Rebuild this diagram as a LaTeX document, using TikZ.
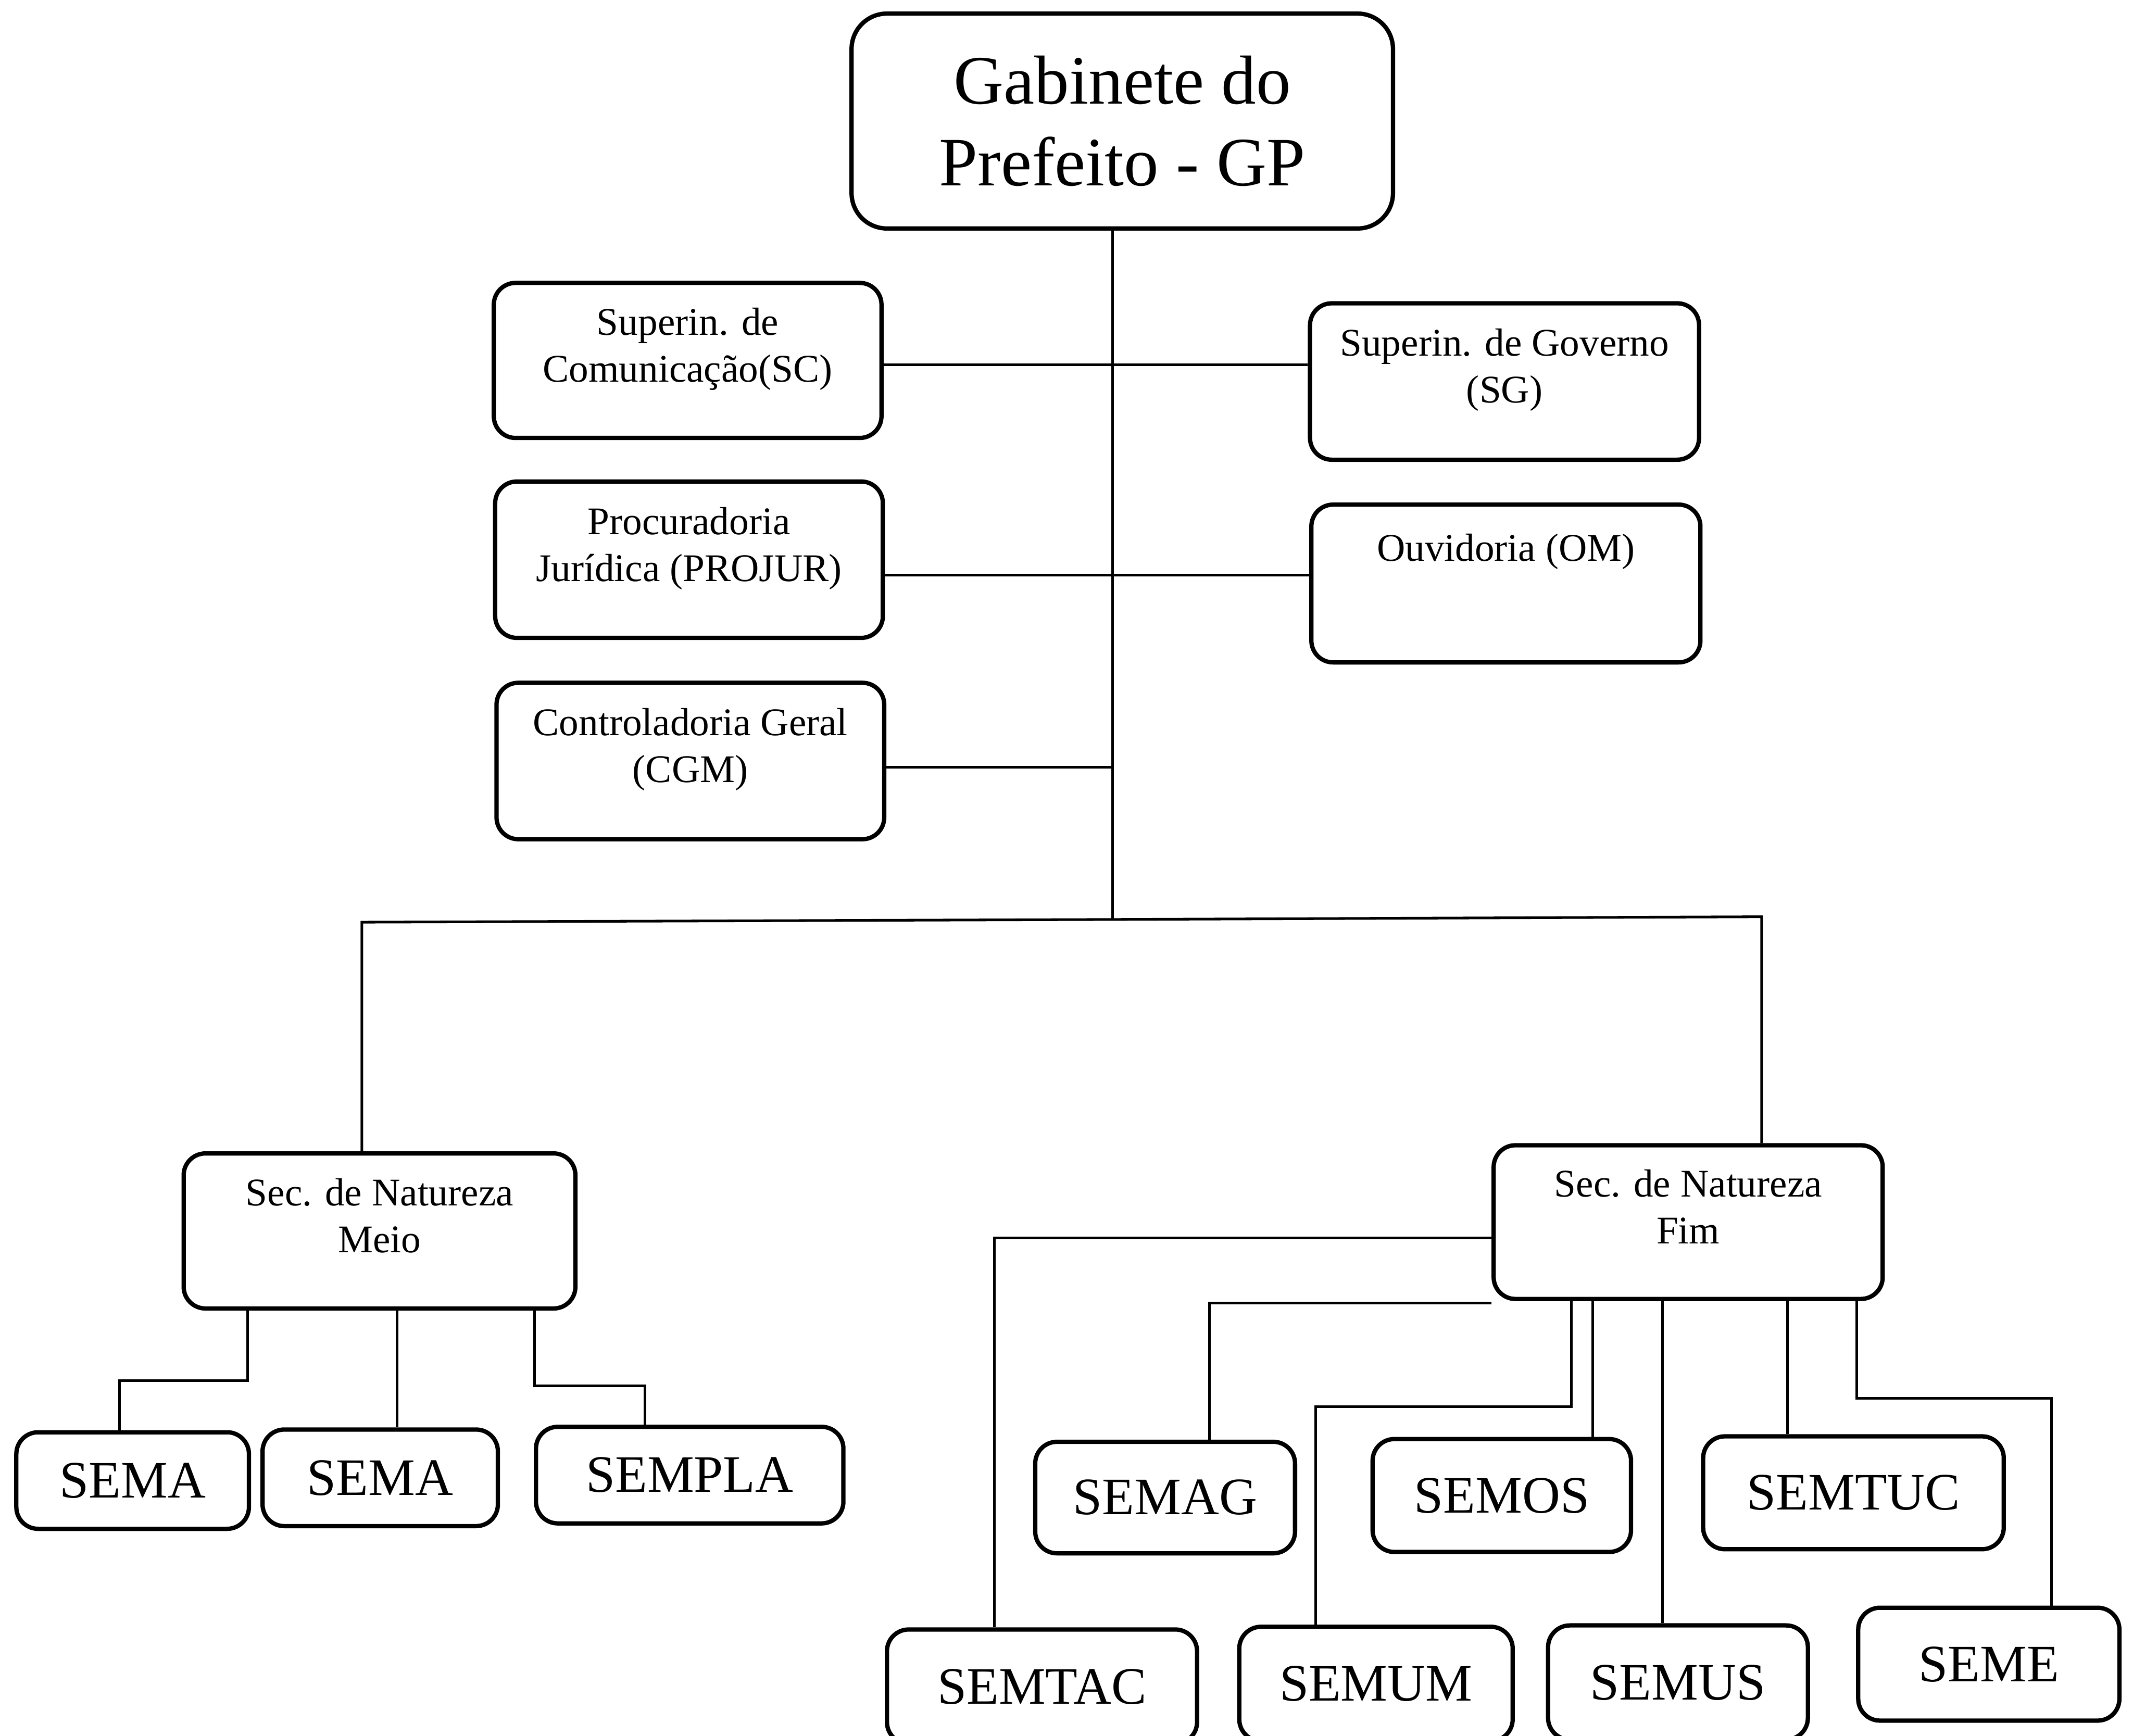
\documentclass[tikz,border=0pt]{standalone}
\usepackage{fontspec}
\setmainfont{Liberation Serif}
\usepackage{tikz}

\tikzset{
  box/.style={draw, rounded corners=1.6mm, line width=0.9pt, align=center, inner sep=0pt, font=\fontsize{8.2}{9.8}\selectfont},
  sembox/.style={box, font=\fontsize{11}{13}\selectfont},
  link/.style={line width=0.55pt}
}

\begin{document}
\begin{tikzpicture}[x=0.1mm, y=-0.1mm]
    \useasboundingbox (0,0) rectangle (1568,1276);
    \clip (0,0) rectangle (1568,1276);

    % Gabinete
    \node[box, rounded corners=2.6mm, minimum width=39.8mm, minimum height=15.8mm, font=\fontsize{14.5}{17}\selectfont] (GP) at (825,89) {Gabinete do\\Prefeito - GP};

    % Staff units
    \node[box, minimum width=28.5mm, minimum height=11.4mm, text depth=6.5pt] (SC) at (505.5,265) {Superin. de\\Comunicação(SC)};
    \node[box, minimum width=28.6mm, minimum height=11.5mm, text depth=6.5pt] (SG) at (1106,280.5) {Superin. de Governo\\(SG)};
    \node[box, minimum width=28.5mm, minimum height=11.5mm, text depth=6.5pt] (PROJUR) at (506.5,411.5) {Procuradoria\\Jurídica (PROJUR)};
    \node[box, minimum width=28.6mm, minimum height=11.6mm, text depth=15pt] (OM) at (1107,429) {Ouvidoria (OM)};
    \node[box, minimum width=28.5mm, minimum height=11.5mm, text depth=6.5pt] (CGM) at (507.5,559.5) {Controladoria Geral\\(CGM)};

    % Secretarias
    \node[box, minimum width=28.8mm, minimum height=11.4mm, text depth=6.5pt] (Meio) at (279,905) {Sec. de Natureza\\Meio};
    \node[box, minimum width=28.6mm, minimum height=11.3mm, text depth=6.5pt] (Fim) at (1241,898.5) {Sec. de Natureza\\Fim};

    \node[sembox, minimum width=17.1mm, minimum height=7.1mm] (SEMAa) at (97.5,1088.5) {SEMA};
    \node[sembox, minimum width=17.3mm, minimum height=7.1mm] (SEMAb) at (279.5,1086.5) {SEMA};
    \node[sembox, minimum width=22.6mm, minimum height=7.1mm] (SEMPLA) at (507,1084.5) {SEMPLA};

    \node[sembox, minimum width=19.1mm, minimum height=8.2mm] (SEMAG) at (856.5,1101) {SEMAG};
    \node[sembox, minimum width=19mm, minimum height=8.3mm] (SEMOS) at (1104,1099.5) {SEMOS};
    \node[sembox, minimum width=22.1mm, minimum height=8.3mm] (SEMTUC) at (1362.5,1097.5) {SEMTUC};
    \node[sembox, minimum width=22.8mm, minimum height=8.4mm] (SEMTAC) at (766,1240) {SEMTAC};
    \node[sembox, minimum width=20.1mm, minimum height=8.4mm] (SEMUM) at (1011.5,1238) {SEMUM};
    \node[sembox, minimum width=19.1mm, minimum height=8.4mm] (SEMUS) at (1233.5,1237) {SEMUS};
    \node[sembox, minimum width=19.2mm, minimum height=8.3mm] (SEME) at (1462,1223.5) {SEME};

    % Trunk
    \coordinate (t1) at (818,268);
    \coordinate (t2) at (818,423);
    \coordinate (t3) at (818,564);
    \coordinate (j) at (818,676);
    \coordinate (jl) at (266,678);
    \coordinate (jr) at (1295,674);
    \draw[link] (GP.south -| j) -- (j);
    \draw[link] (SC.east |- t1) -- (SG.west |- t1);
    \draw[link] (PROJUR.east |- t2) -- (OM.west |- t2);
    \draw[link] (CGM.east |- t3) -- (t3);
    \draw[link] (Meio.north -| jl) -- (jl) -- (j) -- (jr) -- (Fim.north -| jr);

    % Meio branches
    \coordinate (ma) at (182,1015);
    \coordinate (mb) at (88,1015);
    \coordinate (mc) at (292,1030);
    \coordinate (md) at (393,1019);
    \coordinate (me) at (474,1019);
    \draw[link] (Meio.south -| ma) -- (ma) -- (mb) -- (SEMAa.north -| mb);
    \draw[link] (Meio.south -| mc) -- (SEMAb.north -| mc);
    \draw[link] (Meio.south -| md) -- (md) -- (me) -- (SEMPLA.north -| me);

    % Fim branches
    \coordinate (fa) at (731,910);
    \coordinate (fb) at (889,958);
    \coordinate (fc) at (1155,1034);
    \coordinate (fd) at (967,1034);
    \coordinate (fe) at (1171,1000);
    \coordinate (ff) at (1222,1000);
    \coordinate (fg) at (1314,1000);
    \coordinate (fh) at (1365,1028);
    \coordinate (fi) at (1508,1028);
    \draw[link] (Fim.west |- fa) -- (fa) -- (SEMTAC.north -| fa);
    \draw[link] (Fim.west |- fb) -- (fb) -- (SEMAG.north -| fb);
    \draw[link] (Fim.south -| fc) -- (fc) -- (fd) -- (SEMUM.north -| fd);
    \draw[link] (Fim.south -| fe) -- (SEMOS.north -| fe);
    \draw[link] (Fim.south -| ff) -- (SEMUS.north -| ff);
    \draw[link] (Fim.south -| fg) -- (SEMTUC.north -| fg);
    \draw[link] (Fim.south -| fh) -- (fh) -- (fi) -- (SEME.north -| fi);
\end{tikzpicture}
\end{document}
